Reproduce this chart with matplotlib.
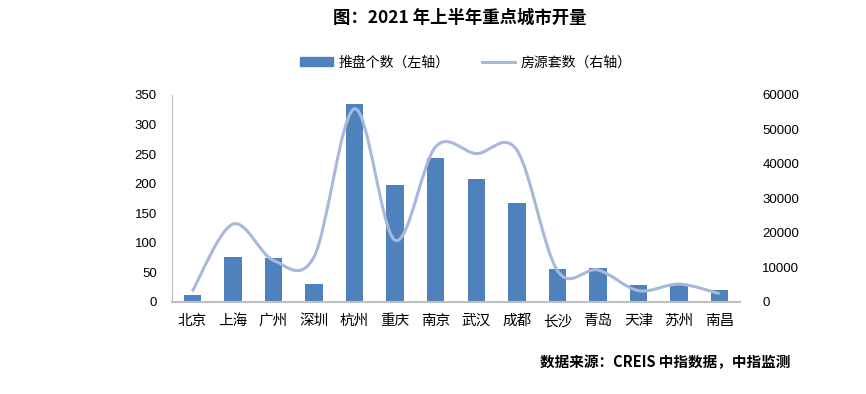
import matplotlib.pyplot as plt
from matplotlib.path import Path
from matplotlib.patches import PathPatch, Patch
from matplotlib.lines import Line2D

plt.rcParams['font.family'] = ['Noto Sans CJK SC', 'DejaVu Sans']

# data
cities = ['北京', '上海', '广州', '深圳', '杭州', '重庆', '南京',
          '武汉', '成都', '长沙', '青岛', '天津', '苏州', '南昌']
projects = [12, 76, 74, 30, 335, 198, 244, 208, 167, 55, 57, 28, 28, 20]
units = [3000, 22500, 12000, 13000, 56000, 17800, 45000,
         43000, 44000, 9000, 9200, 3200, 5100, 2300]

bar_color = '#4f81bd'
line_color = '#a7b9db'

fig = plt.figure(figsize=(8.66, 3.94), dpi=100)
ax = fig.add_axes([0.1986, 0.2343, 0.6559, 0.5246])
ax2 = ax.twinx()

x = list(range(len(cities)))
ax.bar(x, projects, width=0.43, color=bar_color, zorder=2)
ax.set_xlim(-0.5, len(cities) - 0.5)
ax.set_ylim(0, 350)
ax.set_yticks(range(0, 351, 50))
ax.set_xticks(x)
ax.set_xticklabels(cities, fontsize=10.5)

# smoothed line (Excel-like), cubic bezier through the data points
verts = [(x[0], units[0])]
codes = [Path.MOVETO]
n = len(x)
for i in range(n - 1):
    p0 = (x[i - 1], units[i - 1]) if i > 0 else (x[i], units[i])
    p1 = (x[i], units[i])
    p2 = (x[i + 1], units[i + 1])
    p3 = (x[i + 2], units[i + 2]) if i + 2 < n else p2
    c1 = (p1[0] + (p2[0] - p0[0]) / 6, p1[1] + (p2[1] - p0[1]) / 6)
    c2 = (p2[0] - (p3[0] - p1[0]) / 6, p2[1] - (p3[1] - p1[1]) / 6)
    verts += [c1, c2, p2]
    codes += [Path.CURVE4] * 3
ax2.add_patch(PathPatch(Path(verts, codes), facecolor='none',
                        edgecolor=line_color, lw=2.2, zorder=3))
ax2.set_ylim(0, 60000)
ax2.set_yticks(range(0, 60001, 10000))

for a in (ax, ax2):
    for s in ['top', 'right']:
        a.spines[s].set_visible(False)
ax2.spines['left'].set_visible(False)
ax2.spines['bottom'].set_visible(False)
ax.spines['left'].set_color('#bfbfbf')
ax.spines['bottom'].set_color('#bfbfbf')
ax.spines['bottom'].set_linewidth(1.5)
ax.tick_params(axis='both', length=0)
ax.tick_params(axis='y', pad=11, labelsize=9.5)
ax.tick_params(axis='x', pad=9)
ax2.tick_params(axis='y', length=0, pad=16, labelsize=9.5)
for t in ax.get_yticklabels() + ax2.get_yticklabels():
    t.set_family(['Liberation Sans', 'DejaVu Sans'])
for t in ax2.get_yticklabels():
    t.set_horizontalalignment('left')

fig.text(0.531, 0.955, '图：2021 年上半年重点城市开量', ha='center', va='center',
         fontsize=12.5, fontweight='bold')

handles = [Patch(color=bar_color), Line2D([], [], color=line_color, lw=2.2)]
fig.legend(handles, ['推盘个数（左轴）', '房源套数（右轴）'], loc='center',
           bbox_to_anchor=(0.538, 0.842), ncol=2, frameon=False, fontsize=10,
           handlelength=2.4, handleheight=0.6, columnspacing=2.3, handletextpad=0.4)

fig.text(0.913, 0.082, '数据来源：CREIS 中指数据，中指监测', ha='right', va='center',
         fontsize=10.5, fontweight='bold')

fig.savefig('out.png', dpi=100)
